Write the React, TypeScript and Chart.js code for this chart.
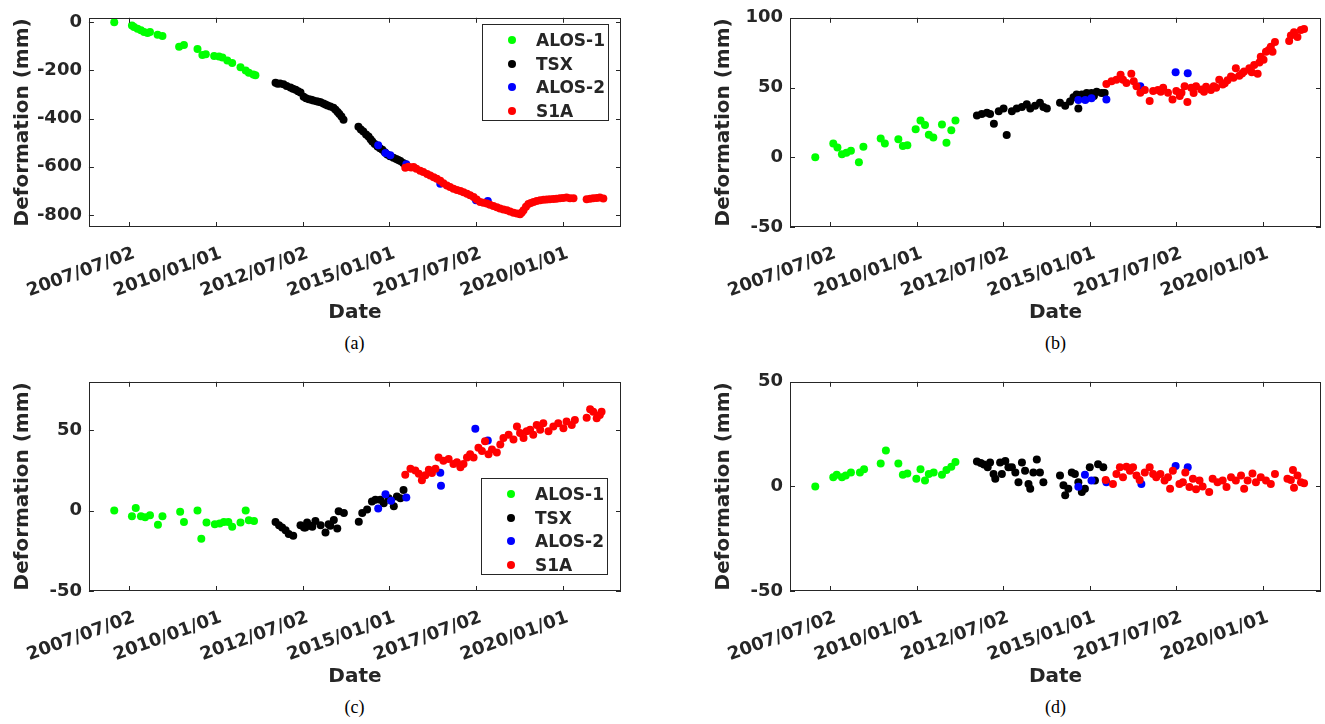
import React, { useEffect, useRef } from "react";
import { Chart, registerables } from "chart.js";

Chart.register(...registerables);

// ---------- axis definitions ----------
const X_TICKS = [2007.5, 2010, 2012.5, 2015, 2017.5, 2020];
const X_TICK_LABELS = ["2007/07/02", "2010/01/01", "2012/07/02", "2015/01/01", "2017/07/02", "2020/01/01"];
const X_MIN = 2006.34;
const X_MAX = 2021.68;

const SERIES_NAMES = ["ALOS-1", "TSX", "ALOS-2", "S1A"];
const SERIES_COLORS = ["#00ff00", "#000000", "#0000ff", "#ff0000"];

const A_Y_TICKS = [-800, -600, -400, -200, 0];
const B_Y_TICKS = [-50, 0, 50, 100];
const C_Y_TICKS = [-50, 0, 50];
const D_Y_TICKS = [-50, 0, 50];

// ---------- panel (a) ----------
const A_ALOS1 = [
  [2007.07, 0], [2007.58, -14], [2007.64, -20], [2007.74, -27], [2007.84, -34], [2007.93, -41], [2008.03, -45],
  [2008.1, -41], [2008.32, -52], [2008.46, -57], [2008.94, -102], [2009.08, -95], [2009.47, -111], [2009.61, -136],
  [2009.71, -133], [2009.95, -140], [2010.09, -143], [2010.19, -147], [2010.33, -159], [2010.47, -170],
  [2010.71, -187], [2010.86, -201], [2010.95, -210], [2011.08, -217], [2011.14, -220],
];
const A_TSX = [
  [2011.72, -251], [2011.78, -256], [2011.85, -255], [2011.95, -258], [2012.04, -265], [2012.15, -271],
  [2012.22, -276], [2012.3, -281], [2012.37, -287], [2012.44, -292], [2012.53, -310], [2012.6, -316],
  [2012.68, -320], [2012.75, -322], [2012.81, -325], [2012.9, -328], [2012.96, -330], [2013.02, -332],
  [2013.1, -338], [2013.16, -342], [2013.22, -346], [2013.3, -350], [2013.39, -355], [2013.45, -364],
  [2013.51, -373], [2013.56, -381], [2013.62, -392], [2013.68, -405],
  [2014.11, -434], [2014.18, -445], [2014.25, -454], [2014.33, -466], [2014.4, -475], [2014.46, -486],
  [2014.51, -495], [2014.58, -506], [2014.66, -516], [2014.73, -523], [2014.8, -529], [2014.87, -540],
  [2014.94, -549], [2015.02, -556], [2015.12, -563], [2015.2, -568], [2015.26, -572], [2015.32, -576],
  [2015.4, -584], [2015.46, -590],
];
const A_ALOS2 = [
  [2014.68, -511], [2014.89, -543], [2015.03, -552], [2015.49, -590], [2016.47, -671], [2017.5, -739], [2017.84, -742],
];
const A_S1A = [
  [2015.46, -604], [2015.55, -600], [2015.63, -603], [2015.7, -601], [2015.78, -608], [2015.89, -617],
  [2015.98, -622], [2016.09, -630], [2016.18, -636], [2016.28, -644], [2016.37, -650], [2016.47, -658],
  [2016.56, -668], [2016.66, -678], [2016.75, -684], [2016.85, -691], [2016.95, -696], [2017.05, -701],
  [2017.14, -706], [2017.24, -712], [2017.33, -718], [2017.43, -726], [2017.52, -736], [2017.62, -746],
  [2017.71, -749], [2017.81, -752], [2017.9, -758], [2018.0, -763], [2018.1, -768], [2018.19, -773],
  [2018.29, -777], [2018.39, -780], [2018.48, -786], [2018.58, -791], [2018.68, -794], [2018.77, -797],
  [2018.82, -790], [2018.87, -780], [2018.94, -766], [2019.01, -755], [2019.08, -750], [2019.16, -746],
  [2019.25, -742], [2019.35, -739], [2019.45, -737], [2019.54, -736], [2019.63, -735], [2019.73, -734],
  [2019.82, -733], [2019.92, -731], [2020.01, -730], [2020.11, -728], [2020.21, -731], [2020.31, -731],
  [2020.69, -735], [2020.79, -733], [2020.88, -731], [2020.98, -730], [2021.07, -728], [2021.17, -732],
];

// ---------- panel (b) ----------
const B_ALOS1 = [
  [2007.07, 0], [2007.59, 9.9], [2007.71, 7], [2007.84, 2.1], [2007.97, 3.3], [2008.1, 4.7], [2008.33, -3.5],
  [2008.46, 7.5], [2008.96, 13.4], [2009.08, 9.9], [2009.47, 12.9], [2009.6, 8], [2009.73, 8.7], [2009.97, 20],
  [2010.11, 26.3], [2010.24, 23.2], [2010.35, 16.2], [2010.48, 14.1], [2010.73, 23.5], [2010.86, 10.4],
  [2011.0, 19.3], [2011.12, 26.3],
];
const B_TSX = [
  [2011.74, 30], [2011.88, 31], [2012.03, 32], [2012.12, 31], [2012.23, 24], [2012.37, 33], [2012.51, 35],
  [2012.6, 16], [2012.75, 33], [2012.89, 35], [2013.04, 36], [2013.18, 38], [2013.28, 35], [2013.42, 37],
  [2013.56, 39], [2013.66, 36], [2013.76, 35], [2014.14, 39], [2014.29, 37], [2014.43, 40], [2014.53, 43],
  [2014.62, 45], [2014.67, 35], [2014.77, 45], [2014.84, 43], [2014.91, 46], [2015.05, 46], [2015.12, 44],
  [2015.2, 47], [2015.34, 46], [2015.43, 46],
];
const B_ALOS2 = [
  [2014.67, 41], [2014.87, 41], [2015.05, 42.3], [2015.48, 41.5], [2016.46, 51], [2017.48, 61], [2017.83, 60.3],
];
const B_S1A = [
  [2015.48, 52.6], [2015.63, 54.5], [2015.77, 55.6], [2015.89, 59.2], [2015.96, 55.6], [2016.06, 53.3],
  [2016.2, 59.9], [2016.27, 54.5], [2016.35, 51], [2016.46, 46.3], [2016.59, 48.2], [2016.73, 40.4],
  [2016.83, 47.5], [2016.97, 48.2], [2017.05, 47], [2017.12, 49.8], [2017.26, 46.3], [2017.39, 41.5],
  [2017.5, 47.5], [2017.6, 44], [2017.65, 46.3], [2017.74, 51], [2017.82, 39.7], [2017.93, 49.8],
  [2018.0, 46], [2018.07, 51], [2018.22, 48.6], [2018.3, 47], [2018.36, 50.5], [2018.5, 48.2], [2018.58, 51],
  [2018.65, 49.8], [2018.74, 55.6], [2018.84, 52.1], [2018.9, 53], [2018.98, 55.2], [2019.08, 58],
  [2019.15, 57], [2019.22, 63.9], [2019.32, 58.5], [2019.4, 60], [2019.46, 61.5], [2019.61, 63.9],
  [2019.68, 61], [2019.75, 66.2], [2019.85, 59.9], [2019.9, 68], [2019.94, 72.1], [2020.02, 70],
  [2020.09, 75.6], [2020.17, 77], [2020.23, 79.2], [2020.28, 75.6], [2020.35, 82.7],
  [2020.76, 83.4], [2020.81, 87.3], [2020.9, 89.7], [2021.0, 86.2], [2021.1, 91.3], [2021.19, 92],
];

// ---------- panel (c) ----------
const C_ALOS1 = [
  [2007.07, 0], [2007.58, -3.5], [2007.69, 1.6], [2007.84, -3.5], [2007.96, -4.1], [2008.1, -2.9], [2008.33, -8.9],
  [2008.46, -3.5], [2008.97, -0.8], [2009.08, -7.1], [2009.47, 0], [2009.58, -17.6], [2009.73, -7.5],
  [2009.97, -8.5], [2010.11, -8.1], [2010.23, -7.1], [2010.36, -7.1], [2010.47, -10], [2010.71, -7.5],
  [2010.86, 0], [2010.95, -6.1], [2011.1, -6.5],
];
const C_TSX = [
  [2011.72, -7.1], [2011.82, -9.1], [2011.91, -10.5], [2012.01, -12.2], [2012.1, -14.6], [2012.23, -15.6],
  [2012.44, -9.1], [2012.54, -10.5], [2012.58, -10.5], [2012.63, -7.5], [2012.73, -9.5], [2012.78, -10.1],
  [2012.87, -6.5], [2013.02, -9.1], [2013.16, -13.6], [2013.25, -8.5], [2013.3, -9.5], [2013.4, -5.9],
  [2013.5, -11.2], [2013.54, -0.4], [2013.69, -1.5],
  [2014.12, -6.9], [2014.22, -1.5], [2014.36, 0.6], [2014.5, 5.6], [2014.6, 6.7], [2014.74, 6.7],
  [2014.84, 4.6], [2014.98, 7.7], [2015.13, 2.6], [2015.22, 8.7], [2015.32, 7.7], [2015.41, 12.8],
];
const C_ALOS2 = [
  [2014.68, 1.2], [2014.89, 10.1], [2015.05, 6.1], [2015.49, 8.1], [2016.47, 23.5], [2016.49, 15.4],
  [2017.48, 50.8], [2017.84, 43.5],
];
const C_S1A = [
  [2015.46, 22.2], [2015.61, 25.9], [2015.75, 24.9], [2015.85, 22.8], [2015.94, 18.8], [2016.04, 21.9],
  [2016.14, 25.3], [2016.23, 23.3], [2016.33, 25.9], [2016.42, 33], [2016.56, 31], [2016.71, 32],
  [2016.85, 28.9], [2016.95, 30], [2017.05, 26.9], [2017.14, 28.9], [2017.24, 33], [2017.33, 35],
  [2017.43, 33], [2017.57, 39], [2017.67, 37], [2017.76, 43.1], [2017.86, 35], [2017.96, 38], [2018.1, 36],
  [2018.2, 41.1], [2018.29, 45.1], [2018.44, 47.1], [2018.58, 44.1], [2018.68, 52.2], [2018.77, 48.2],
  [2018.87, 45.1], [2018.96, 49.2], [2019.06, 50.2], [2019.15, 47.1], [2019.25, 53.2], [2019.35, 50.2],
  [2019.44, 54.2], [2019.59, 49.2], [2019.73, 52.2], [2019.87, 54.2], [2020.02, 51.2], [2020.11, 55.3],
  [2020.26, 53.2], [2020.35, 56.3],
  [2020.69, 57.7], [2020.79, 62.9], [2020.88, 61.4], [2020.98, 57.3], [2021.07, 59.3], [2021.12, 61.4],
];

// ---------- panel (d) ----------
const D_ALOS1 = [
  [2007.07, 0], [2007.59, 4.4], [2007.69, 5.6], [2007.84, 4.4], [2007.95, 5.2], [2008.1, 6.7], [2008.36, 6.7],
  [2008.48, 8.2], [2008.96, 10.9], [2009.11, 17.2], [2009.47, 10.9], [2009.6, 5.6], [2009.73, 6.2],
  [2009.99, 3.6], [2010.11, 8.2], [2010.24, 2.8], [2010.35, 5.9], [2010.49, 6.7], [2010.73, 5.6],
  [2010.86, 7.8], [2011.0, 9.4], [2011.12, 11.7],
];
const D_TSX = [
  [2011.74, 11.9], [2011.85, 11.2], [2011.94, 10.5], [2012.05, 9.1], [2012.12, 11.4], [2012.22, 5.9],
  [2012.27, 3.6], [2012.41, 11.4], [2012.46, 5.9], [2012.56, 12.2], [2012.65, 9.1], [2012.75, 9.1],
  [2012.85, 6.7], [2012.94, 2], [2013.04, 11.4], [2013.13, 7.5], [2013.23, 1.2], [2013.28, -1.1],
  [2013.37, 6.7], [2013.47, 12.9], [2013.56, 6.7], [2013.66, 2],
  [2014.14, 5.2], [2014.24, 0.5], [2014.29, -4.2], [2014.38, -1.1], [2014.48, 6.7], [2014.57, 5.9],
  [2014.67, 2], [2014.77, -2.7], [2014.86, -1.1], [2015.0, 9.1], [2015.15, 2.8], [2015.24, 10.6],
  [2015.39, 9.1],
];
const D_ALOS2 = [
  [2014.67, -0.2], [2014.86, 5.6], [2015.05, 2.8], [2015.48, 2], [2016.49, 1.2], [2017.48, 9.8], [2017.83, 9.1],
];
const D_S1A = [
  [2015.46, 3.1], [2015.67, 1.2], [2015.77, 5.9], [2015.87, 9.1], [2015.96, 4.4], [2016.06, 9.4],
  [2016.16, 7.5], [2016.25, 9.1], [2016.35, 5.2], [2016.44, 3.1], [2016.59, 6.7], [2016.73, 9.1],
  [2016.83, 5.9], [2016.92, 4.4], [2017.04, 5.9], [2017.16, 2.8], [2017.26, 4.4], [2017.32, -1.1],
  [2017.4, 7.5], [2017.59, 1.2], [2017.69, 2], [2017.76, 6.7], [2017.88, -0.3], [2017.98, 3.6],
  [2018.07, -1.4], [2018.17, 2.8], [2018.26, 0], [2018.45, -2.7], [2018.55, 3.6], [2018.69, 2],
  [2018.84, 2.8], [2018.95, -0.3], [2019.08, 4.4], [2019.22, 2.8], [2019.37, 5.2], [2019.46, -1.1],
  [2019.56, 2.8], [2019.7, 6.2], [2019.8, 2], [2019.94, 4.4], [2020.09, 2.8], [2020.23, 1.2], [2020.35, 5.9],
  [2020.71, 3.6], [2020.81, 3.1], [2020.87, 7.8], [2020.9, -0.7], [2021.0, 5.2], [2021.1, 2], [2021.19, 1.5],
];

// ---------- styling ----------
const TXT = "#262626";
const FONT = "'DejaVu Sans', sans-serif";

const boxPlugin = {
  id: "matlabBox",
  afterDatasetsDraw(chart: any) {
    const { ctx, chartArea } = chart;
    const { left, right, top, bottom } = chartArea;
    const xs = chart.scales.x;
    const ys = chart.scales.y;
    const tl = 5;
    ctx.save();
    ctx.strokeStyle = TXT;
    ctx.lineWidth = 1;
    ctx.strokeRect(Math.round(left) + 0.5, Math.round(top) + 0.5, Math.round(right - left) - 1, Math.round(bottom - top) - 1);
    ctx.beginPath();
    xs.ticks.forEach((t: any) => {
      const p = Math.round(xs.getPixelForValue(t.value)) + 0.5;
      ctx.moveTo(p, bottom);
      ctx.lineTo(p, bottom - tl);
      ctx.moveTo(p, top);
      ctx.lineTo(p, top + tl);
    });
    ys.ticks.forEach((t: any) => {
      const p = Math.round(ys.getPixelForValue(t.value)) + 0.5;
      ctx.moveTo(left, p);
      ctx.lineTo(left + tl, p);
      ctx.moveTo(right, p);
      ctx.lineTo(right - tl, p);
    });
    ctx.stroke();
    ctx.restore();
  },
};

type PanelProps = {
  left: number;
  top: number;
  width: number;
  height: number;
  padRight: number;
  series: number[][][];
  yMin: number;
  yMax: number;
  yTicks: number[];
};

function Panel(p: PanelProps) {
  const ref = useRef<HTMLCanvasElement>(null);
  useEffect(() => {
    const chart = new Chart(ref.current as HTMLCanvasElement, {
      type: "scatter",
      data: {
        datasets: SERIES_NAMES.map((name, i) => ({
          label: name,
          data: p.series[i].map(([x, y]) => ({ x, y })),
          backgroundColor: SERIES_COLORS[i],
          borderColor: SERIES_COLORS[i],
          borderWidth: 0,
          pointRadius: 4,
          pointHoverRadius: 4,
          order: 3 - i,
        })),
      },
      options: {
        responsive: false,
        animation: false,
        events: [],
        layout: { padding: { top: 14, right: p.padRight, left: 0, bottom: 0 } },
        plugins: { legend: { display: false }, tooltip: { enabled: false } },
        scales: {
          x: {
            type: "linear",
            min: X_MIN,
            max: X_MAX,
            grid: { display: false, drawTicks: false },
            border: { display: false },
            afterBuildTicks: (s: any) => {
              s.ticks = X_TICKS.map((v) => ({ value: v }));
            },
            afterFit: (s: any) => {
              s.height = p.height - 227;
            },
            ticks: {
              autoSkip: false,
              minRotation: 20,
              maxRotation: 20,
              padding: 16,
              labelOffset: 5,
              color: TXT,
              font: { family: FONT, size: 18, weight: "bold" },
              callback: (_v: any, i: number) => X_TICK_LABELS[i],
            },
            title: {
              display: true,
              text: "Date",
              color: TXT,
              font: { family: FONT, size: 20, weight: "bold" },
              padding: { top: 0, bottom: 5 },
            },
          },
          y: {
            type: "linear",
            min: p.yMin,
            max: p.yMax,
            grid: { display: false, drawTicks: false },
            border: { display: false },
            afterBuildTicks: (s: any) => {
              s.ticks = p.yTicks.map((v) => ({ value: v }));
            },
            afterFit: (s: any) => {
              s.width = 88;
            },
            ticks: {
              padding: 7,
              color: TXT,
              font: { family: FONT, size: 18, weight: "bold" },
              callback: (v: any) => String(v),
            },
            title: {
              display: true,
              text: "Deformation (mm)",
              color: TXT,
              font: { family: FONT, size: 20, weight: "bold" },
              padding: { top: 10, bottom: 0 },
            },
          },
        },
      } as any,
      plugins: [boxPlugin],
    });
    return () => chart.destroy();
  }, []);
  return (
    <canvas
      ref={ref}
      width={p.width}
      height={p.height}
      style={{ position: "absolute", left: p.left, top: p.top, width: p.width, height: p.height }}
    />
  );
}

function Legend({ left, top }: { left: number; top: number }) {
  const rows = [15, 39, 62, 86];
  return (
    <div
      style={{
        position: "absolute",
        left,
        top,
        width: 127,
        height: 97,
        border: `1px solid ${TXT}`,
        background: "#fff",
        boxSizing: "border-box",
      }}
    >
      {SERIES_NAMES.map((n, i) => (
        <div key={n}>
          <div
            style={{
              position: "absolute",
              left: 25,
              top: rows[i] - 4,
              width: 8,
              height: 8,
              borderRadius: 4,
              background: SERIES_COLORS[i],
            }}
          />
          <div
            style={{
              position: "absolute",
              left: 53,
              top: rows[i] - 11,
              height: 22,
              lineHeight: "22px",
              fontFamily: FONT,
              fontWeight: "bold",
              fontSize: 17,
              color: TXT,
              whiteSpace: "nowrap",
            }}
          >
            {n}
          </div>
        </div>
      ))}
    </div>
  );
}

function Caption({ cx, cy, text }: { cx: number; cy: number; text: string }) {
  return (
    <div
      style={{
        position: "absolute",
        left: cx - 30,
        top: cy - 12,
        width: 60,
        height: 24,
        lineHeight: "24px",
        textAlign: "center",
        fontFamily: "'Liberation Serif', serif",
        fontSize: 18,
        color: "#000",
      }}
    >
      {text}
    </div>
  );
}

export default function App() {
  return (
    <div style={{ position: "fixed", left: 0, top: 0, width: 1325, height: 724, background: "#fff", overflow: "hidden" }}>
      <Panel left={0} top={0} width={660} height={330} padRight={39} series={[A_ALOS1, A_TSX, A_ALOS2, A_S1A]} yMin={-850} yMax={18} yTicks={A_Y_TICKS} />
      <Panel left={701} top={0} width={624} height={330} padRight={3} series={[B_ALOS1, B_TSX, B_ALOS2, B_S1A]} yMin={-50} yMax={100} yTicks={B_Y_TICKS} />
      <Panel left={0} top={364} width={660} height={330} padRight={39} series={[C_ALOS1, C_TSX, C_ALOS2, C_S1A]} yMin={-50} yMax={80} yTicks={C_Y_TICKS} />
      <Panel left={701} top={364} width={624} height={330} padRight={3} series={[D_ALOS1, D_TSX, D_ALOS2, D_S1A]} yMin={-50} yMax={50} yTicks={D_Y_TICKS} />
      <Legend left={482} top={24} />
      <Legend left={481} top={478} />
      <Caption cx={354.5} cy={343} text="(a)" />
      <Caption cx={1055.5} cy={343} text="(b)" />
      <Caption cx={354.5} cy={707} text="(c)" />
      <Caption cx={1055.5} cy={707} text="(d)" />
    </div>
  );
}
